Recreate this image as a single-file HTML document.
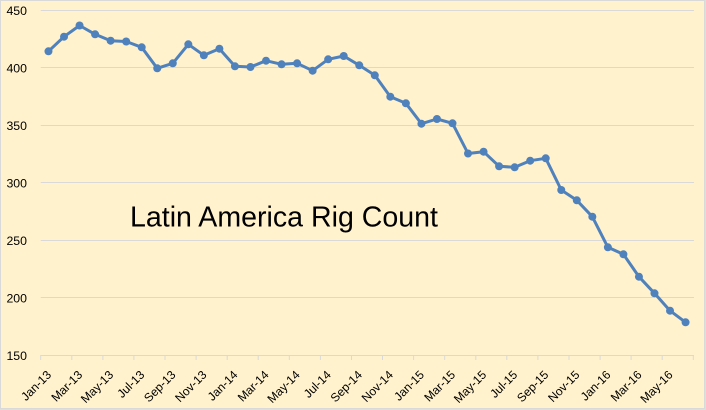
<!DOCTYPE html>
<html><head><meta charset="utf-8"><style>
html,body{margin:0;padding:0;background:#FFF2CC;}
svg{display:block;}
text{font-family:"Liberation Sans",Arial,sans-serif;fill:#000;}
</style></head><body>
<svg width="706" height="410" viewBox="0 0 706 410" xmlns="http://www.w3.org/2000/svg">
<rect x="0" y="0" width="706" height="410" fill="#FFF2CC"/>
<rect x="0.5" y="0.5" width="704" height="408" fill="none" stroke="#D9D9D9" stroke-width="1"/>
<line x1="705.5" y1="0" x2="705.5" y2="410" stroke="#E4E0D0"/>
<line x1="0" y1="409.5" x2="706" y2="409.5" stroke="#E4E0D0"/>
<g stroke="#D9D9D9" stroke-width="1">
<line x1="40.7" y1="10.5" x2="694" y2="10.5"/>
<line x1="40.7" y1="67.5" x2="694" y2="67.5"/>
<line x1="40.7" y1="125.5" x2="694" y2="125.5"/>
<line x1="40.7" y1="182.5" x2="694" y2="182.5"/>
<line x1="40.7" y1="240.5" x2="694" y2="240.5"/>
<line x1="40.7" y1="297.5" x2="694" y2="297.5"/>
<line x1="40.7" y1="355.5" x2="694" y2="355.5"/>
</g>
<g stroke="#D9D9D9" stroke-width="1">
<line x1="40.7" y1="355" x2="40.7" y2="360"/><line x1="71.8" y1="355" x2="71.8" y2="360"/><line x1="102.9" y1="355" x2="102.9" y2="360"/><line x1="133.9" y1="355" x2="133.9" y2="360"/><line x1="165.0" y1="355" x2="165.0" y2="360"/><line x1="196.1" y1="355" x2="196.1" y2="360"/><line x1="227.2" y1="355" x2="227.2" y2="360"/><line x1="258.2" y1="355" x2="258.2" y2="360"/><line x1="289.3" y1="355" x2="289.3" y2="360"/><line x1="320.4" y1="355" x2="320.4" y2="360"/><line x1="351.5" y1="355" x2="351.5" y2="360"/><line x1="382.5" y1="355" x2="382.5" y2="360"/><line x1="413.6" y1="355" x2="413.6" y2="360"/><line x1="444.7" y1="355" x2="444.7" y2="360"/><line x1="475.8" y1="355" x2="475.8" y2="360"/><line x1="506.8" y1="355" x2="506.8" y2="360"/><line x1="537.9" y1="355" x2="537.9" y2="360"/><line x1="569.0" y1="355" x2="569.0" y2="360"/><line x1="600.1" y1="355" x2="600.1" y2="360"/><line x1="631.1" y1="355" x2="631.1" y2="360"/><line x1="662.2" y1="355" x2="662.2" y2="360"/><line x1="693.3" y1="355" x2="693.3" y2="360"/>
</g>
<g font-size="12.3" text-anchor="end">
<text x="27" y="14.8">450</text>
<text x="27" y="72.3">400</text>
<text x="27" y="129.8">350</text>
<text x="27" y="187.3">300</text>
<text x="27" y="244.8">250</text>
<text x="27" y="302.3">200</text>
<text x="27" y="359.8">150</text>
</g>
<g font-size="12" text-anchor="end">
<text transform="translate(52.0,375.5) rotate(-45)">Jan-13</text>
<text transform="translate(83.1,375.5) rotate(-45)">Mar-13</text>
<text transform="translate(114.1,375.5) rotate(-45)">May-13</text>
<text transform="translate(145.2,375.5) rotate(-45)">Jul-13</text>
<text transform="translate(176.3,375.5) rotate(-45)">Sep-13</text>
<text transform="translate(207.4,375.5) rotate(-45)">Nov-13</text>
<text transform="translate(238.4,375.5) rotate(-45)">Jan-14</text>
<text transform="translate(269.5,375.5) rotate(-45)">Mar-14</text>
<text transform="translate(300.6,375.5) rotate(-45)">May-14</text>
<text transform="translate(331.7,375.5) rotate(-45)">Jul-14</text>
<text transform="translate(362.8,375.5) rotate(-45)">Sep-14</text>
<text transform="translate(393.8,375.5) rotate(-45)">Nov-14</text>
<text transform="translate(424.9,375.5) rotate(-45)">Jan-15</text>
<text transform="translate(456.0,375.5) rotate(-45)">Mar-15</text>
<text transform="translate(487.1,375.5) rotate(-45)">May-15</text>
<text transform="translate(518.1,375.5) rotate(-45)">Jul-15</text>
<text transform="translate(549.2,375.5) rotate(-45)">Sep-15</text>
<text transform="translate(580.3,375.5) rotate(-45)">Nov-15</text>
<text transform="translate(611.4,375.5) rotate(-45)">Jan-16</text>
<text transform="translate(642.5,375.5) rotate(-45)">Mar-16</text>
<text transform="translate(673.5,375.5) rotate(-45)">May-16</text>
</g>
<text x="130" y="226.7" font-size="28.5" textLength="308" lengthAdjust="spacingAndGlyphs">Latin America Rig Count</text>
<polyline fill="none" stroke="#4F81BD" stroke-width="3" stroke-linejoin="round" points="48.47,51.3 64.01,36.7 79.55,25.5 95.09,34.3 110.63,40.7 126.16,41.5 141.70,47.3 157.24,68.3 172.78,63.3 188.32,44.3 203.86,55.3 219.40,48.7 234.94,66.3 250.48,67.0 266.02,60.7 281.56,64.3 297.09,63.3 312.63,70.7 328.17,59.3 343.71,56.0 359.25,65.3 374.79,75.3 390.33,96.7 405.87,103.3 421.41,123.7 436.95,119.0 452.49,123.3 468.02,153.5 483.56,151.7 499.10,166.3 514.64,167.3 530.18,160.7 545.72,158.3 561.26,190.0 576.80,200.3 592.34,216.7 607.88,247.3 623.42,254.3 638.95,276.7 654.49,293.3 670.03,310.7 685.57,322.3"/>
<g fill="#4F81BD">
<circle cx="48.47" cy="51.3" r="4"/><circle cx="64.01" cy="36.7" r="4"/><circle cx="79.55" cy="25.5" r="4"/><circle cx="95.09" cy="34.3" r="4"/><circle cx="110.63" cy="40.7" r="4"/><circle cx="126.16" cy="41.5" r="4"/><circle cx="141.70" cy="47.3" r="4"/><circle cx="157.24" cy="68.3" r="4"/><circle cx="172.78" cy="63.3" r="4"/><circle cx="188.32" cy="44.3" r="4"/><circle cx="203.86" cy="55.3" r="4"/><circle cx="219.40" cy="48.7" r="4"/><circle cx="234.94" cy="66.3" r="4"/><circle cx="250.48" cy="67.0" r="4"/><circle cx="266.02" cy="60.7" r="4"/><circle cx="281.56" cy="64.3" r="4"/><circle cx="297.09" cy="63.3" r="4"/><circle cx="312.63" cy="70.7" r="4"/><circle cx="328.17" cy="59.3" r="4"/><circle cx="343.71" cy="56.0" r="4"/><circle cx="359.25" cy="65.3" r="4"/><circle cx="374.79" cy="75.3" r="4"/><circle cx="390.33" cy="96.7" r="4"/><circle cx="405.87" cy="103.3" r="4"/><circle cx="421.41" cy="123.7" r="4"/><circle cx="436.95" cy="119.0" r="4"/><circle cx="452.49" cy="123.3" r="4"/><circle cx="468.02" cy="153.5" r="4"/><circle cx="483.56" cy="151.7" r="4"/><circle cx="499.10" cy="166.3" r="4"/><circle cx="514.64" cy="167.3" r="4"/><circle cx="530.18" cy="160.7" r="4"/><circle cx="545.72" cy="158.3" r="4"/><circle cx="561.26" cy="190.0" r="4"/><circle cx="576.80" cy="200.3" r="4"/><circle cx="592.34" cy="216.7" r="4"/><circle cx="607.88" cy="247.3" r="4"/><circle cx="623.42" cy="254.3" r="4"/><circle cx="638.95" cy="276.7" r="4"/><circle cx="654.49" cy="293.3" r="4"/><circle cx="670.03" cy="310.7" r="4"/><circle cx="685.57" cy="322.3" r="4"/>
</g>
</svg>
</body></html>
